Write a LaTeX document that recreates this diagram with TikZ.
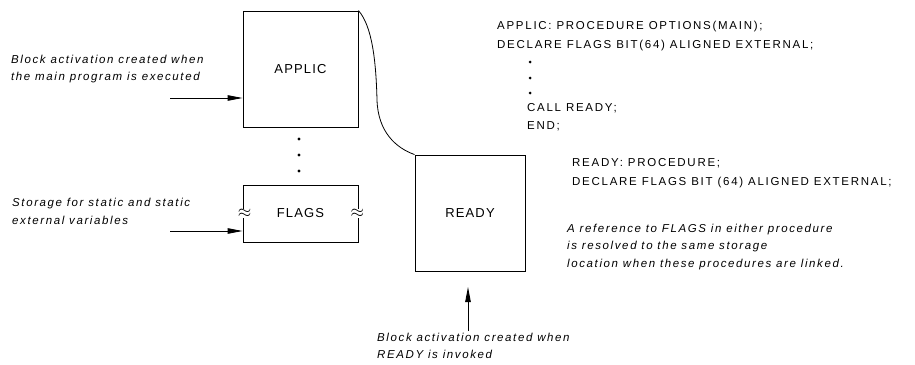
\documentclass[tikz,border=0pt]{standalone}
\usepackage{fontspec}
\setmainfont{Liberation Sans}
\newfontfamily\codefont[LetterSpace=15]{Liberation Sans}
\newfontfamily\notefont[LetterSpace=14]{Liberation Sans}
\newfontfamily\labelfont[LetterSpace=9]{Liberation Sans}
\usetikzlibrary{arrows.meta}
\tikzset{
  box/.style={draw, line width=0.9pt, inner sep=0pt, font=\labelfont\fontsize{13}{15}\selectfont},
  code/.style={anchor=base west, inner sep=0pt, font=\codefont\fontsize{11.5}{13}\selectfont},
  note/.style={anchor=base west, inner sep=0pt, font=\notefont\fontsize{11.5}{13}\selectfont\itshape},
  arr/.style={line width=0.9pt, -{Triangle[length=15pt,width=5.5pt]}},
  brk/.style={fill=white, inner sep=0.3pt, font=\fontsize{16}{16}\selectfont},
  dot/.style={circle, fill=black, inner sep=0pt, minimum size=3.2pt}
}
\begin{document}
\begin{tikzpicture}[x=1pt,y=-1pt]
\useasboundingbox (0,0) rectangle (915,364);
% boxes
\node[box, minimum width=115pt, minimum height=116pt] (applic) at (300.5,69) {APPLIC};
\node[box, minimum width=115pt, minimum height=57pt] (flags) at (300.5,213.5) {FLAGS};
\node[box, minimum width=110pt, minimum height=116pt] (ready) at (470,213) {READY};
% break marks on FLAGS
\node[brk] (b1) at ([xshift=2pt]flags.west) {$\approx$};
\node[brk] (b2) at ([xshift=-1pt]flags.east) {$\approx$};
% dots between APPLIC and FLAGS
\node[dot] (d1) at (299,139) {};
\node[dot] (d2) at (299,155) {};
\node[dot] (d3) at (299,171) {};
% curve
\draw[line width=0.8pt] (applic.north east) .. controls (372,26) and (376,60) .. (377,100)
  .. controls (378,132) and (396,148) .. (ready.north west);
% arrows
\coordinate (a1) at (170,98);
\coordinate (a2) at (170,231);
\coordinate (a3) at (468,331);
\draw[arr] (a1) -- (a1 -| applic.west);
\draw[arr] (a2) -- (a2 -| flags.west);
\draw[arr] (a3) -- (a3 |- 0,287);
% left notes
\node[note] (n1) at (11,63) {Block activation created when};
\node[note] (n2) at (11,80) {the main program is executed};
\node[note] (n3) at (12,206) {Storage for static and static};
\node[note] (n4) at (12,224) {external variables};
% bottom note
\node[note] (n5) at (377,341) {Block activation created when};
\node[note] (n6) at (377,358) {READY is invoked};
% right note
\node[note] (n7) at (567,232) {A reference to FLAGS in either procedure};
\node[note] (n8) at (567,249) {is resolved to the same storage};
\node[note] (n9) at (567,267) {location when these procedures are linked.};
% code
\node[code] (c1) at (497,29) {APPLIC: PROCEDURE OPTIONS(MAIN);};
\node[code] (c2) at (497,48) {DECLARE FLAGS BIT(64) ALIGNED EXTERNAL;};
\node[dot, minimum size=3pt] (e1) at (530,62) {};
\node[dot, minimum size=3pt] (e2) at (530,78) {};
\node[dot, minimum size=3pt] (e3) at (530,93) {};
\node[code] (c3) at (527,111) {CALL READY;};
\node[code] (c4) at (527,129) {END;};
\node[code] (c5) at (572,166) {READY: PROCEDURE;};
\node[code] (c6) at (572,185) {DECLARE FLAGS BIT (64) ALIGNED EXTERNAL;};
\end{tikzpicture}
\end{document}
